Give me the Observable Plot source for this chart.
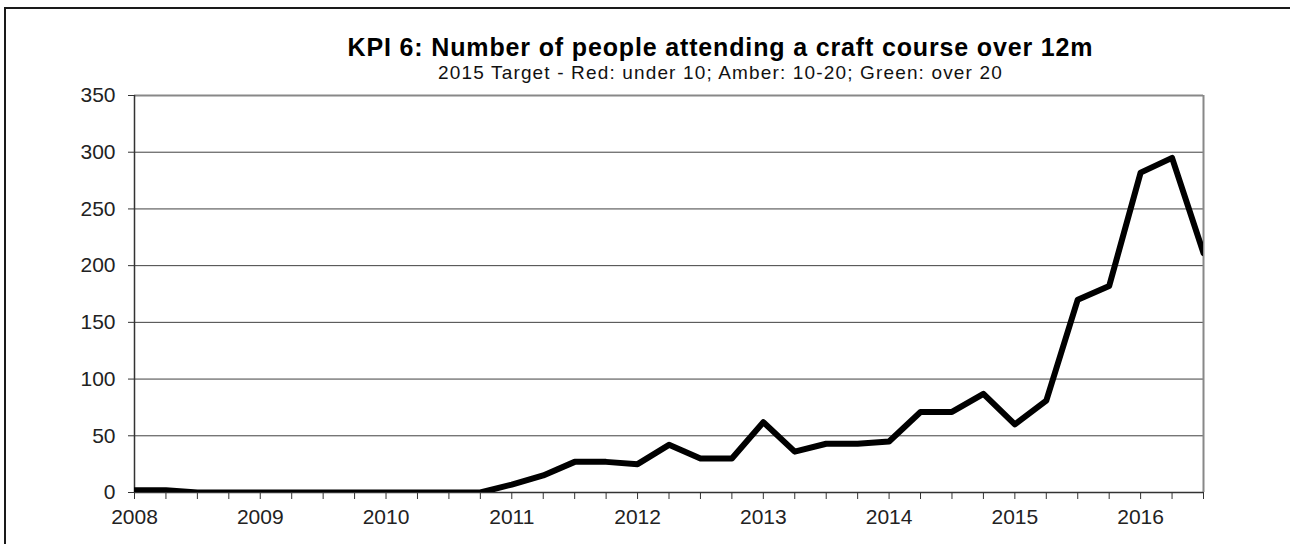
<!DOCTYPE html>
<html><head><meta charset="utf-8">
<script src="https://cdn.jsdelivr.net/npm/d3@7"></script>
<script src="https://cdn.jsdelivr.net/npm/@observablehq/plot@0.6"></script>
<style>
body{margin:0;background:#fff;font-family:"Liberation Sans",Arial,sans-serif;}
#wrap{position:relative;width:1290px;height:544px;overflow:hidden;background:#fff;}
#frame{position:absolute;left:4px;top:7px;width:1400px;height:700px;border:2px solid #1a1a1a;box-sizing:border-box;}
#title{position:absolute;left:0;width:1441px;top:33px;text-align:center;font-weight:bold;font-size:25px;line-height:1.15;color:#000;letter-spacing:0.85px;white-space:nowrap;}
#subtitle{position:absolute;left:0;width:1441px;top:62px;text-align:center;font-size:19px;line-height:1.15;color:#111;letter-spacing:1.15px;white-space:nowrap;}
#chart{position:absolute;left:0;top:0;}
</style></head>
<body>
<div id="wrap">
  <div id="frame"></div>
  <div id="chart"></div>
  <div id="title">KPI 6: Number of people attending a craft course over 12m</div>
  <div id="subtitle">2015 Target - Red: under 10; Amber: 10-20; Green: over 20</div>
</div>
<script>
const period = [
  2008.00, 2008.25, 2008.50, 2008.75,
  2009.00, 2009.25, 2009.50, 2009.75,
  2010.00, 2010.25, 2010.50, 2010.75,
  2011.00, 2011.25, 2011.50, 2011.75,
  2012.00, 2012.25, 2012.50, 2012.75,
  2013.00, 2013.25, 2013.50, 2013.75,
  2014.00, 2014.25, 2014.50, 2014.75,
  2015.00, 2015.25, 2015.50, 2015.75,
  2016.00, 2016.25, 2016.50
];
const attendees = [
  2, 2, 0, 0,
  0, 0, 0, 0,
  0, 0, 0, 0,
  7, 15, 27, 27,
  25, 42, 30, 30,
  62, 36, 43, 43,
  45, 71, 71, 87,
  60, 81, 170, 182,
  282, 295, 211
];
const yearLabels = [2008, 2009, 2010, 2011, 2012, 2013, 2014, 2015, 2016];
const yTicks = [0, 50, 100, 150, 200, 250, 300, 350];

const data = period.map((p, i) => ({period: p, value: attendees[i]}));

const chart = Plot.plot({
  width: 1290,
  height: 544,
  marginLeft: 134,
  marginRight: 87,
  marginTop: 95,
  marginBottom: 52,
  style: {fontFamily: "'Liberation Sans', Arial, sans-serif", background: "transparent", overflow: "visible"},
  x: {domain: [2008, 2016.5]},
  y: {domain: [0, 350]},
  marks: [
    Plot.gridY(yTicks.filter(d => d > 0 && d < 350), {stroke: "#404040", strokeOpacity: 1, strokeWidth: 1}),
    Plot.ruleY([350], {stroke: "#888", strokeWidth: 2}),
    Plot.ruleX([2016.5], {stroke: "#888", strokeWidth: 2}),
    Plot.axisY(yTicks, {tickSize: 6, tickPadding: 13, fontSize: 21, stroke: "#333", fill: "#222", label: null}),
    Plot.axisX(period, {tickSize: 7, tickPadding: 10, fontSize: 21, stroke: "#333", fill: "#222", label: null,
      tickFormat: d => yearLabels.includes(d) ? String(d) : ""}),
    Plot.ruleX([2008], {stroke: "#333", strokeWidth: 1.5}),
    Plot.ruleY([0], {stroke: "#333", strokeWidth: 1.5}),
    Plot.line(data, {x: "period", y: "value", stroke: "#000", strokeWidth: 6, strokeLinejoin: "round", clip: true})
  ]
});
document.getElementById("chart").appendChild(chart);
</script>
</body></html>
